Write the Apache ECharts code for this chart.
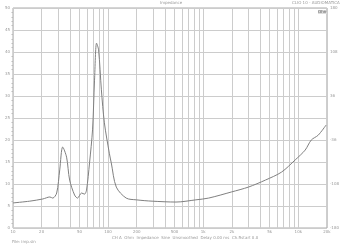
<!DOCTYPE html>
<html><head><meta charset="utf-8">
<script src="https://cdn.jsdelivr.net/npm/echarts@6/dist/echarts.min.js"></script>
<style>html,body{margin:0;padding:0;background:#fff}#c{width:342px;height:246px}</style>
</head><body><div id="c"></div>
<script>
const freqHz = [10, 15, 20.6, 24.4, 26.2, 28.8, 31, 33.3, 36.6, 39.4, 44.4, 47.7, 52.6, 56.5, 59.3, 63.8, 68.6, 72, 75.6, 79.4, 85, 91.4, 103, 108, 122, 155, 198, 290, 518, 838, 1140, 1990, 2990, 4520, 6660, 9300, 11800, 13700, 16200, 19600];
const impedanceOhm = [5.7, 6.1, 6.6, 7.05, 6.8, 7.95, 13.2, 18.4, 16.1, 10.9, 7.5, 6.8, 7.95, 7.7, 8.6, 14.8, 22.3, 33.6, 42.0, 40.5, 31.4, 23.9, 17.0, 14.8, 9.3, 6.8, 6.4, 6.1, 5.9, 6.4, 6.8, 8.2, 9.3, 10.9, 12.7, 15.5, 17.7, 20.0, 21.1, 23.4];
const gridFreqs = [10,20,30,40,50,60,70,80,90,100,200,300,400,500,600,700,800,900,1000,2000,3000,4000,5000,6000,7000,8000,9000,10000,20000];
const labelFreqs = [10,20,50,100,200,500,1000,2000,5000,10000,20000];
const phaseTicks = [-180,-108,-36,36,108,180];
const titleText = 'Impedance';
const topRightText = 'CLIO 10 - AUDIOMATICA';
const captionText = 'CH A  Ohm  Impedance  Sine  Unsmoothed  Delay 0.00 ms  Ch.Rstart 0.0';
const fileText = 'File: imp.sin';

const chart = echarts.init(document.getElementById('c'), null, {renderer:'canvas'});
const fmtF = v => v >= 1000 ? (v/1000) + 'k' : String(v);
const small = {fontSize: 4, fill: '#999', fontFamily: 'DejaVu Sans'};
chart.setOption({
  animation: false,
  backgroundColor: '#fff',
  grid: {left: 13, right: 13, top: 8, bottom: 18, show: true, borderColor: '#aaa', borderWidth: 1},
  graphic: [
    {type:'text', left: 160, top: 1, style: Object.assign({text: titleText}, small)},
    {type:'text', left: 292, top: 1, style: Object.assign({text: topRightText}, small)},
    {type:'text', left: 318, top: 10, style: {text: 'Ohm', fontSize: 4, fill: '#555', fontFamily:'DejaVu Sans', backgroundColor:'#ddd'}},
    {type:'text', left: 112, top: 236, style: Object.assign({text: captionText}, small)},
    {type:'text', left: 12, top: 240, style: Object.assign({text: fileText}, small)}
  ],
  xAxis: {
    type: 'log', logBase: 10, min: 10, max: 20000,
    axisLine: {show: false},
    axisTick: {show: false, customValues: gridFreqs},
    splitLine: {show: true, lineStyle: {color: '#ccc', width: 1}},
    minorSplitLine: {show: false},
    axisLabel: {show: true, customValues: labelFreqs, formatter: fmtF, fontSize: 4, color: '#999', margin: 2, fontFamily: 'DejaVu Sans'}
  },
  yAxis: [{
    type: 'value', min: 0, max: 50, interval: 5,
    axisLine: {show: false},
    axisTick: {show: false},
    minorTick: {show: true, splitNumber: 5, length: 1.5, lineStyle: {color: '#bbb'}},
    splitLine: {show: true, lineStyle: {color: '#ccc', width: 1}},
    axisLabel: {fontSize: 4, color: '#999', margin: 3, fontFamily: 'DejaVu Sans'}
  }, {
    type: 'value', min: -180, max: 180, position: 'right',
    axisLine: {show: false},
    axisTick: {show: false, customValues: phaseTicks},
    splitLine: {show: false},
    axisLabel: {fontSize: 4, color: '#999', margin: 3, customValues: phaseTicks, fontFamily: 'DejaVu Sans'}
  }],
  series: [{
    type: 'line', smooth: 0.3, symbol: 'none',
    data: freqHz.map((f, i) => [f, impedanceOhm[i]]),
    lineStyle: {color: '#808080', width: 1}
  }]
});
</script></body></html>
